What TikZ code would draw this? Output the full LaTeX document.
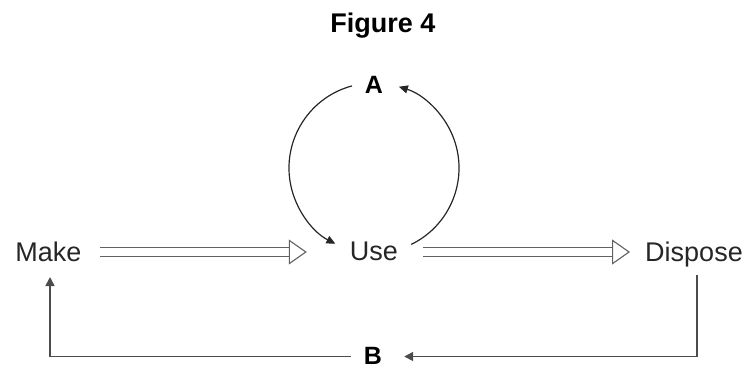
\documentclass[tikz,border=0pt]{standalone}
\usepackage{fontspec}
\setmainfont{Liberation Sans}
\usetikzlibrary{arrows.meta,calc}
\begin{document}
\begin{tikzpicture}[x=1pt,y=-1pt,
  lbl/.style={inner sep=0pt,anchor=base,font=\fontsize{27}{30}\selectfont,text=black!85},
  bl/.style={inner sep=0pt,anchor=base,font=\fontsize{25}{30}\selectfont\bfseries},
  dblarrow/.style={draw=black!62,line width=1.1pt,double=white,double distance=8.5pt,
    -{Triangle[open,length=18pt,width=25pt,line width=1.1pt]}},
  loop/.style={draw=black!85,line width=1.2pt,-{Triangle[length=9pt,width=8pt]}},
  fb/.style={draw=black!70,line width=1.5pt,-{Triangle[length=9pt,width=9pt]}}]
\useasboundingbox (0,0) rectangle (751,368);
\node[inner sep=0pt,anchor=base,font=\fontsize{27}{30}\selectfont\bfseries] (title) at (383,32) {Figure 4};
\node[lbl] (make) at (48.5,261) {Make};
\node[lbl] (use) at (374,260) {Use};
\node[lbl] (dispose) at (694,261) {Dispose};
\node[bl] (A) at (374,93) {A};
\node[bl] (B) at (373,364) {B};
\coordinate (c) at (374,168);
% double arrows
\draw[dblarrow] ([xshift=18pt,yshift=9pt]make.base east) -- ([xshift=-43pt,yshift=8pt]use.base west);
\draw[dblarrow] ([xshift=25pt,yshift=8pt]use.base east) -- ([xshift=-15pt,yshift=9pt]dispose.base west);
% loop
\draw[loop] ($(c)+(-105:85)$) arc[start angle=-105,end angle=-243,radius=85];
\draw[loop] ($(c)+(64:85)$) arc[start angle=64,end angle=-73,radius=85];
% feedback
\draw[fb] ([xshift=3pt,yshift=-14pt]dispose.base) |- ([xshift=22pt,yshift=7.5pt]B.base east);
\draw[fb] ([xshift=-13pt,yshift=7.5pt]B.base west) -| ([xshift=1.5pt,yshift=-16pt]make.base);
\end{tikzpicture}
\end{document}
